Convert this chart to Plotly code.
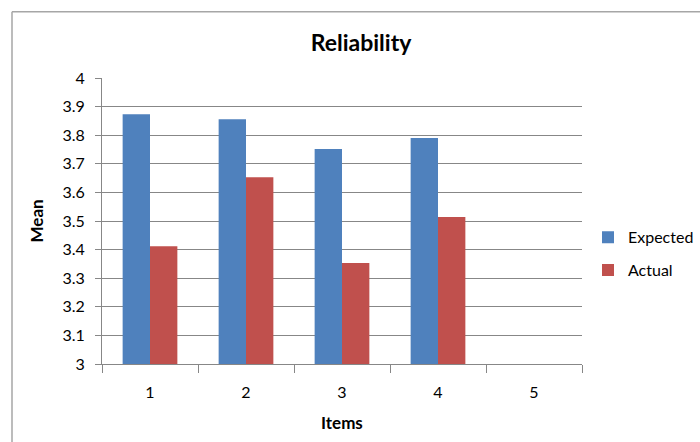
import plotly.graph_objects as go

# Mean scores per reliability item
items = ["1", "2", "3", "4", "5"]
expected = [3.873, 3.856, 3.752, 3.790, None]
actual = [3.412, 3.653, 3.353, 3.514, None]
y_ticks = [3, 3.1, 3.2, 3.3, 3.4, 3.5, 3.6, 3.7, 3.8, 3.9, 4]
y_tick_text = ["3", "3.1", "3.2", "3.3", "3.4", "3.5", "3.6", "3.7", "3.8", "3.9", "4"]

BLUE = "#4F81BD"
RED = "#C0504D"
GRID = "#878787"
FONT = "Lato, 'Open Sans', sans-serif"

fig = go.Figure()
fig.add_trace(go.Bar(x=items, y=expected, name="Expected", marker_color=BLUE,
                     marker_line_width=0, legendgroup="e"))
fig.add_trace(go.Bar(x=items, y=actual, name="Actual", marker_color=RED,
                     marker_line_width=0, legendgroup="a"))

# plot area spans x 102..582 px, y 78..364 px
L, R, T, B = 102, 582, 77.7, 363.7
W, H = R - L, B - T


def px(x):
    return (x - L) / W


def py(y):
    return (B - y) / H


fig.update_layout(
    width=700, height=442,
    margin=dict(l=L, r=700 - R, t=T, b=442 - B, pad=0, autoexpand=False),
    paper_bgcolor="white", plot_bgcolor="white",
    barmode="group", bargap=0.43, bargroupgap=0,
    font=dict(family=FONT, color="#000000", size=16),
    title=dict(text="<b>Reliability</b>", x=px(361), xref="paper",
               y=1 - 43 / 442, yref="container", xanchor="center", yanchor="middle",
               font=dict(family=FONT, size=23, color="#000000")),
    showlegend=True,
    legend=dict(x=px(588), y=py(220), xanchor="left", yanchor="top",
                font=dict(family=FONT, size=16, color="#000000"),
                tracegroupgap=9, bgcolor="rgba(0,0,0,0)", itemwidth=30),
    xaxis=dict(type="category", categoryorder="array", categoryarray=items,
               range=[-0.5, 4.5], showgrid=False, showline=True, linecolor=GRID,
               linewidth=1, ticks="outside", tickson="boundaries", ticklen=8,
               tickcolor=GRID, tickwidth=1, ticklabelstandoff=14,
               tickfont=dict(family=FONT, size=16, color="#000000"), zeroline=False),
    yaxis=dict(range=[3, 4], tickvals=y_ticks, ticktext=y_tick_text,
               showgrid=True, gridcolor=GRID, gridwidth=1, showline=True,
               linecolor=GRID, linewidth=1, ticks="outside", ticklen=6,
               tickcolor=GRID, tickwidth=1, ticklabelstandoff=7,
               tickfont=dict(family=FONT, size=16, color="#000000"), zeroline=False),
    annotations=[
        dict(text="<b>Items</b>", x=px(342), y=py(422), xref="paper", yref="paper",
             xanchor="center", yanchor="middle", showarrow=False,
             font=dict(family=FONT, size=17, color="#000000")),
        dict(text="<b>Mean</b>", x=px(35.5), y=0.5, xref="paper", yref="paper",
             xanchor="center", yanchor="middle", showarrow=False, textangle=-90,
             font=dict(family=FONT, size=17, color="#000000")),
    ],
    shapes=[
        # chart frame (left and top edges)
        dict(type="line", xref="paper", yref="paper", x0=px(12), x1=px(12),
             y0=py(460), y1=py(11.5), line=dict(color="#A6A6A6", width=1.5)),
        dict(type="line", xref="paper", yref="paper", x0=px(12), x1=px(720),
             y0=py(11.5), y1=py(11.5), line=dict(color="#A6A6A6", width=1.5)),
    ],
)

fig.write_html("out.html")
